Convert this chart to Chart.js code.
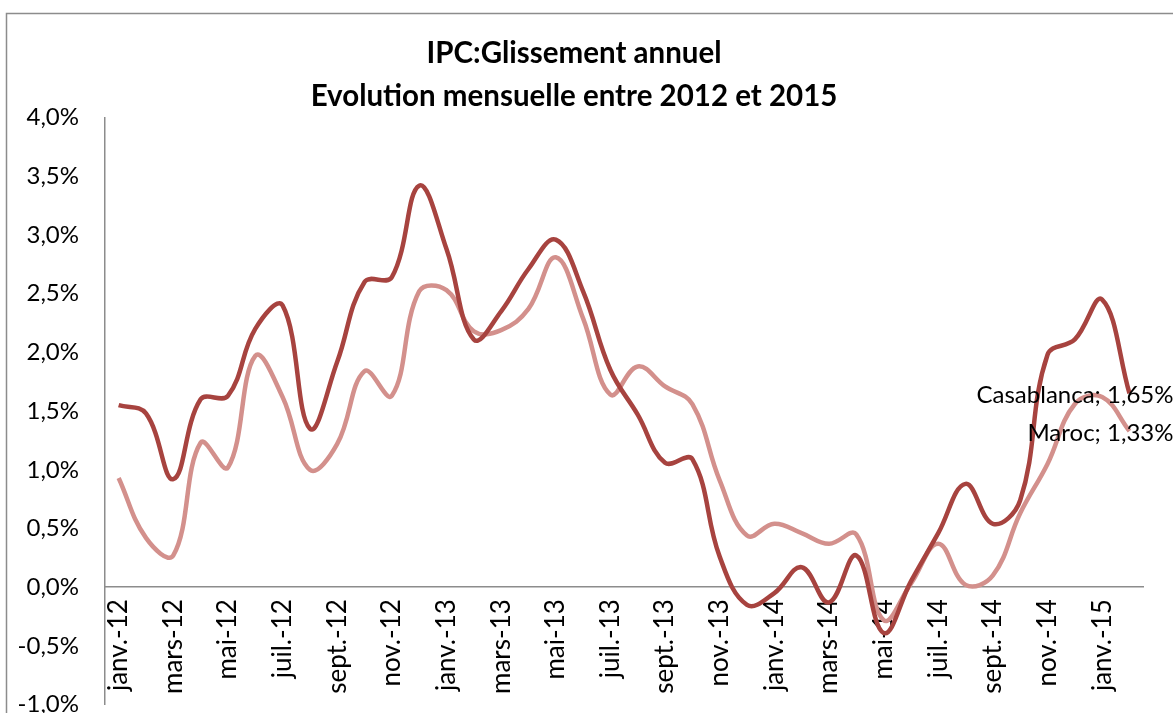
<!DOCTYPE html>
<html lang="fr">
<head>
  <meta charset="UTF-8" />
  <title>IPC : Glissement annuel</title>
  <script src="https://cdn.jsdelivr.net/npm/chart.js"></script>
  <style>
    html, body { margin: 0; background: #fff; overflow: hidden; }
    #wrap { width: 1173px; height: 745px; position: relative; }
  </style>
</head>
<body>
  <div id="wrap"><canvas id="ipcChart"></canvas></div>

  <script>
    // mois de janv.-12 à févr.-15
    const mois = [
      'janv.-12', 'févr.-12', 'mars-12', 'avr.-12', 'mai-12', 'juin-12', 'juil.-12', 'août-12', 'sept.-12', 'oct.-12', 'nov.-12', 'déc.-12',
      'janv.-13', 'févr.-13', 'mars-13', 'avr.-13', 'mai-13', 'juin-13', 'juil.-13', 'août-13', 'sept.-13', 'oct.-13', 'nov.-13', 'déc.-13',
      'janv.-14', 'févr.-14', 'mars-14', 'avr.-14', 'mai-14', 'juin-14', 'juil.-14', 'août-14', 'sept.-14', 'oct.-14', 'nov.-14', 'déc.-14',
      'janv.-15', 'févr.-15'
    ];

    // glissement annuel en %
    const casablanca = [
      1.55, 1.48, 0.92, 1.60, 1.63, 2.20, 2.40, 1.35, 1.92, 2.60, 2.64, 3.42,
      2.88, 2.11, 2.35, 2.71, 2.96, 2.52, 1.85, 1.47, 1.06, 1.09, 0.26, -0.15,
      -0.05, 0.17, -0.13, 0.27, -0.39, 0.05, 0.46, 0.88, 0.54, 0.74, 1.98, 2.11,
      2.45, 1.65
    ];
    const maroc = [
      0.93, 0.42, 0.27, 1.23, 1.02, 1.97, 1.62, 1.00, 1.22, 1.84, 1.63, 2.52,
      2.53, 2.18, 2.19, 2.37, 2.81, 2.29, 1.64, 1.88, 1.71, 1.56, 0.91, 0.44,
      0.54, 0.46, 0.37, 0.45, -0.28, 0.03, 0.37, 0.02, 0.10, 0.63, 1.05, 1.56,
      1.62, 1.33
    ];

    const yMin = -1, yMax = 4, yPas = 0.5;

    const police = 'Lato, "Open Sans", sans-serif';
    const fmt = v => v.toFixed(1).replace('.', ',') + '%';
    const fmt2 = v => v.toFixed(2).replace('.', ',') + '%';

    // cadre gris autour du graphique
    const cadre = {
      id: 'cadre',
      beforeDraw(chart) {
        const ctx = chart.ctx;
        ctx.save();
        ctx.strokeStyle = '#8c8c8c';
        ctx.lineWidth = 1.5;
        ctx.beginPath();
        ctx.moveTo(6.5, chart.height);
        ctx.lineTo(6.5, 13.5);
        ctx.lineTo(chart.width, 13.5);
        ctx.stroke();
        ctx.restore();
      }
    };

    // étiquette sur le dernier point de chaque série
    const etiquettes = {
      id: 'etiquettes',
      afterDatasetsDraw(chart) {
        const ctx = chart.ctx;
        ctx.save();
        ctx.font = '24px ' + police;
        ctx.fillStyle = '#000';
        ctx.textAlign = 'right';
        ctx.textBaseline = 'middle';
        chart.data.datasets.forEach((ds, i) => {
          const pts = chart.getDatasetMeta(i).data;
          const p = pts[pts.length - 1];
          const v = ds.data[ds.data.length - 1];
          ctx.fillText(ds.label + '; ' + fmt2(v), p.x + 44, p.y + 2);
        });
        ctx.restore();
      }
    };

    new Chart(document.getElementById('ipcChart'), {
      type: 'line',
      data: {
        labels: mois,
        datasets: [
          {
            label: 'Casablanca',
            data: casablanca,
            borderColor: '#A7433F',
            borderWidth: 4.5,
            pointRadius: 0,
            tension: 0.4,
            fill: false
          },
          {
            label: 'Maroc',
            data: maroc,
            borderColor: '#D3908C',
            borderWidth: 4.5,
            pointRadius: 0,
            tension: 0.4,
            fill: false
          }
        ]
      },
      options: {
        responsive: true,
        maintainAspectRatio: false,
        animation: false,
        layout: { padding: { left: 0, right: 25, top: 0, bottom: 0 } },
        plugins: {
          legend: { display: false },
          tooltip: { enabled: false },
          title: {
            display: true,
            text: ['IPC:Glissement annuel', 'Evolution mensuelle entre 2012 et 2015'],
            color: '#000',
            font: { family: police, size: 29.5, weight: 'bold', lineHeight: 1.45 },
            padding: { top: 32, bottom: 0 }
          }
        },
        scales: {
          x: {
            type: 'category',
            position: { y: 0 },
            offset: true,
            grid: { display: false, drawTicks: false },
            border: { display: true, color: '#8c8c8c', width: 1.5 },
            ticks: {
              autoSkip: false,
              maxRotation: 90,
              minRotation: 90,
              padding: 12,
              color: '#000',
              font: { family: police, size: 26 },
              callback: (v, i) => (i % 2 === 0 ? mois[i] : '')
            }
          },
          y: {
            min: yMin,
            max: yMax,
            grid: { display: false, drawTicks: false },
            border: { display: true, color: '#8c8c8c', width: 1.5 },
            ticks: {
              stepSize: yPas,
              padding: 26,
              color: '#000',
              font: { family: police, size: 24 },
              callback: v => fmt(v)
            },
            afterFit(scale) { scale.width = 105; }
          }
        }
      },
      plugins: [cadre, etiquettes]
    });
  </script>
</body>
</html>
